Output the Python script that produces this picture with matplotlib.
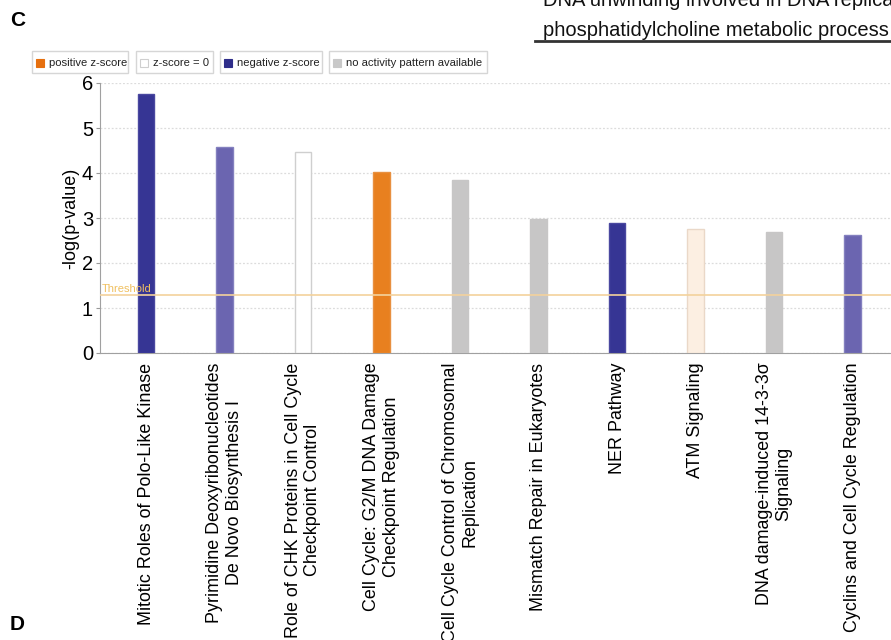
import matplotlib
matplotlib.use("Agg")
import matplotlib.pyplot as plt
from matplotlib.patches import Rectangle
from matplotlib.lines import Line2D

plt.rcParams['font.family'] = ['Liberation Sans', 'DejaVu Sans']

# ---- data ----
pathways = [
    "Mitotic Roles of Polo-Like Kinase",
    "Pyrimidine Deoxyribonucleotides\nDe Novo Biosynthesis I",
    "Role of CHK Proteins in Cell Cycle\nCheckpoint Control",
    "Cell Cycle: G2/M DNA Damage\nCheckpoint Regulation",
    "Cell Cycle Control of Chromosomal\nReplication",
    "Mismatch Repair in Eukaryotes",
    "NER Pathway",
    "ATM Signaling",
    "DNA damage-induced 14-3-3σ\nSignaling",
    "Cyclins and Cell Cycle Regulation",
]
neglogp = [5.76, 4.58, 4.47, 4.02, 3.84, 2.98, 2.89, 2.76, 2.69, 2.63]
zclass = ["neg", "neg_weak", "zero", "pos", "na", "na", "neg", "pos_weak", "na", "neg_weak"]
threshold = 1.3

legend_items = ["positive z-score", "z-score = 0", "negative z-score", "no activity pattern available"]

face = {"neg": "#363594", "neg_weak": "#6b65b0", "zero": "#ffffff", "pos": "#e8801f",
        "pos_weak": "#fcefe2", "na": "#c7c6c6"}
edge = {"neg": "#4a48a0", "neg_weak": "#8480bf", "zero": "#cfcfcf", "pos": "#e89040",
        "pos_weak": "#ead8c8", "na": "#c7c6c6"}
legend_cols = ["#e66f0e", "#ffffff", "#2e2d8a", "#c8c8c8"]

W, H = 891, 640
fig = plt.figure(figsize=(W / 100, H / 100), dpi=100)

def fx(x):
    return x / W

def fy(y):
    return 1 - y / H

ax = fig.add_axes([fx(100), fy(353), 1 - fx(100), fy(83) - fy(353)])
xs = list(range(len(pathways)))
ax.bar(xs, neglogp, width=0.215, color=[face[c] for c in zclass],
       edgecolor=[edge[c] for c in zclass], linewidth=1, zorder=3)
ax.set_xlim(-0.586, 9.49)
ax.set_ylim(0, 6)
ax.set_yticks(range(7))
ax.tick_params(axis='y', labelsize=14.5, length=3, color="#999999", pad=2)
ax.set_xticks(xs)
ax.set_xticklabels(pathways, rotation=90, fontsize=12.9, ha='center', va='top',
                   multialignment='center')
ax.tick_params(axis='x', length=0, pad=7)
ax.set_ylabel("-log(p-value)", fontsize=13, labelpad=2)
for s in ["top", "right"]:
    ax.spines[s].set_visible(False)
for s in ["left", "bottom"]:
    ax.spines[s].set_color("#a0a0a0")
ax.yaxis.grid(True, linestyle=(0, (1.5, 1.5)), color="#dcdcdc", linewidth=0.9, zorder=0)
ax.axhline(threshold, color="#f3d29c", linewidth=1.2, zorder=4)
ax.text(-0.57, threshold + 0.02, "Threshold", fontsize=8, color="#f0c060", va='bottom', zorder=5)

# panel letters
fig.text(fx(10), fy(20), "C", fontsize=15, fontweight='bold', va='center')
fig.text(fx(10), fy(624), "D", fontsize=15, fontweight='bold', va='center')

# cropped header from neighbouring panel
fig.text(fx(543), fy(1), "DNA unwinding involved in DNA replication", fontsize=14.5,
         va='center', color="#111111")
fig.text(fx(543), fy(30), "phosphatidylcholine metabolic process", fontsize=14.5,
         va='center', color="#111111")
fig.add_artist(Line2D([fx(535), 1], [fy(41), fy(41)], color="#333333", linewidth=2))

# legend boxes
boxes = [(32, 128), (136, 213), (220, 322), (329, 487)]
for (x0, x1), lab, col in zip(boxes, legend_items, legend_cols):
    fig.add_artist(Rectangle((fx(x0), fy(73)), fx(x1 - x0), fy(51) - fy(73),
                             facecolor="white", edgecolor="#d6d6d6", linewidth=1))
    fig.add_artist(Rectangle((fx(x0 + 4), fy(67)), fx(8), fy(59) - fy(67),
                             facecolor=col, edgecolor="#cfcfcf" if col == "#ffffff" else col,
                             linewidth=0.8))
    fig.text(fx(x0 + 17), fy(63), lab, fontsize=8.1, va='center', color="#222222")

fig.savefig("out.png", dpi=100)
